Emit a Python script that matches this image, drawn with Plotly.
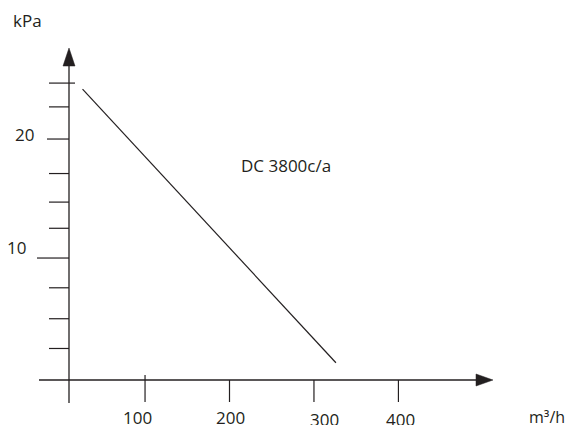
import plotly.graph_objects as go

# ---- data ----
flow = [26, 326]            # m3/h
pressure = [24.2, 1.2]      # kPa
series_label = "DC 3800c/a"
x_ticks = [100, 200, 300, 400]
x_tick_labels = ["100", "200", "300", "400"]
y_ticks = [2.4, 4.9, 7.5, 10, 12.5, 14.7, 17.1, 20, 22.7, 24.7]
y_labels = {10: "10", 20: "20"}
x_unit = "m³/h"
y_unit = "kPa"

# The page body has an 8px margin; the figure fills the rest of the 574x425 window.
OFF = 8
W, H = 574 - 2 * OFF, 425 - OFF
INK = "#231f20"
FONT = dict(family="Open Sans", size=17, color=INK)

def fx(p):
    """window pixel x -> paper x"""
    return (p - OFF) / W

def fy(p):
    """window pixel y -> paper y"""
    return 1 - (p - OFF) / H

fig = go.Figure()
fig.add_trace(go.Scatter(x=flow, y=pressure, mode="lines",
                         line=dict(color=INK, width=1.2), hoverinfo="skip"))

shapes = []
# axis lines
shapes.append(dict(type="line", xref="paper", yref="paper",
                   x0=fx(69), x1=fx(69), y0=fy(403), y1=fy(64),
                   line=dict(color=INK, width=1.3)))
shapes.append(dict(type="line", xref="paper", yref="paper",
                   x0=fx(39), x1=fx(478), y0=fy(380), y1=fy(380),
                   line=dict(color=INK, width=1.3)))
# arrow heads
shapes.append(dict(type="path", xref="paper", yref="paper",
                   path=f"M {fx(69)},{fy(48)} L {fx(63)},{fy(66)} L {fx(75)},{fy(66)} Z",
                   fillcolor=INK, line=dict(color=INK, width=0.5)))
shapes.append(dict(type="path", xref="paper", yref="paper",
                   path=f"M {fx(493)},{fy(380)} L {fx(476)},{fy(374)} L {fx(476)},{fy(386)} Z",
                   fillcolor=INK, line=dict(color=INK, width=0.5)))
# x ticks
for v in x_ticks:
    top = 375 if v == x_ticks[0] else 380
    shapes.append(dict(type="line", xref="x", yref="paper", x0=v, x1=v,
                       y0=fy(top), y1=fy(402), line=dict(color=INK, width=1.2)))
# y ticks
for v in y_ticks:
    left = 37 if v == 10 else (47 if v == 20 else 49)
    right = 75 if v == y_ticks[-1] else 69
    shapes.append(dict(type="line", xref="paper", yref="y", x0=fx(left), x1=fx(right),
                       y0=v, y1=v, line=dict(color=INK, width=1.2)))

annotations = []
x_label_pos = {100: (137, 417), 200: (230, 417), 300: (324, 419), 400: (400, 419)}
for v, t in zip(x_ticks, x_tick_labels):
    px, py = x_label_pos[v]
    annotations.append(dict(x=fx(px), y=fy(py), xref="paper", yref="paper", text=t,
                            showarrow=False, font=FONT, xanchor="center", yanchor="middle"))
y_label_pos = {10: (16, 247), 20: (24, 134)}
for v, t in y_labels.items():
    px, py = y_label_pos[v]
    annotations.append(dict(x=fx(px), y=fy(py), xref="paper", yref="paper", text=t,
                            showarrow=False, font=FONT, xanchor="center", yanchor="middle"))
annotations.append(dict(x=fx(567), y=fy(417), xref="paper", yref="paper", text=x_unit,
                        showarrow=False, font=dict(FONT, size=16),
                        xanchor="right", yanchor="middle"))
annotations.append(dict(x=fx(27), y=fy(20), xref="paper", yref="paper", text=y_unit,
                        showarrow=False, font=FONT, xanchor="center", yanchor="middle"))
annotations.append(dict(x=fx(286), y=fy(165), xref="paper", yref="paper", text=series_label,
                        showarrow=False, font=FONT, xanchor="center", yanchor="middle"))

fig.update_layout(
    width=W, height=H,
    margin=dict(l=0, r=0, t=0, b=0),
    paper_bgcolor="white", plot_bgcolor="white",
    showlegend=False,
    xaxis=dict(range=[-62.25, 598.4], visible=False, fixedrange=True),
    yaxis=dict(range=[-4.03, 31.01], visible=False, fixedrange=True),
    shapes=shapes, annotations=annotations,
)

fig.write_html("out.html")
